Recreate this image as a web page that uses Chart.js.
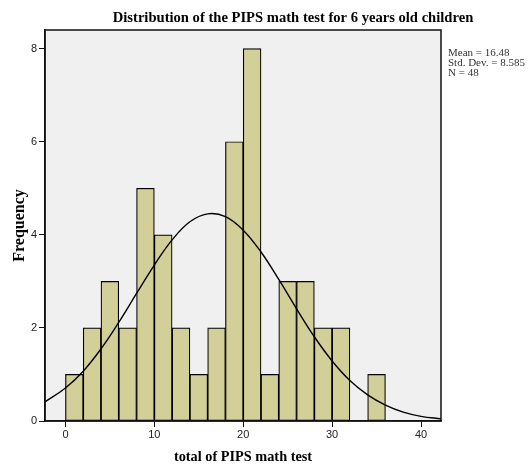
<!DOCTYPE html>
<html>
<head>
<meta charset="utf-8">
<script src="https://cdn.jsdelivr.net/npm/chart.js@4.4.1/dist/chart.umd.min.js"></script>
<style>
  html, body { margin: 0; padding: 0; background: #fff; }
  #wrap { width: 528px; height: 466px; position: relative; }
</style>
</head>
<body>
<div id="wrap"><canvas id="histChart"></canvas></div>
<script>
// Histogram bins (centre of each 2-point bin) and counts
const binCenters = [1, 3, 5, 7, 9, 11, 13, 15, 17, 19, 21, 23, 25, 27, 29, 31, 35];
const binCounts  = [1, 2, 3, 2, 5, 4, 2, 1, 2, 6, 8, 1, 3, 3, 2, 2, 1];

// Normal curve
const curveX = [-2.3, 0, 2, 4, 6, 8, 10, 12, 14, 16, 18, 20, 22, 24, 26, 28, 30, 32, 34, 36, 38, 40, 42.3];
const curveY = [0.41, 0.71, 1.07, 1.55, 2.12, 2.74, 3.35, 3.89, 4.28, 4.45, 4.39, 4.10, 3.63, 3.04, 2.41, 1.81, 1.29, 0.87, 0.56, 0.34, 0.19, 0.10, 0.045];

const xTicks = [0, 10, 20, 30, 40];
const yTicks = [0, 2, 4, 6, 8];

const titleText = 'Distribution of the PIPS math test for 6 years old children';
const statsLines = ['Mean = 16.48', 'Std. Dev. = 8.585', 'N = 48'];

const serif = '"Liberation Serif", "Times New Roman", serif';
const sans = '"Liberation Sans", Arial, sans-serif';

// plot background, frame, title and stats box
const frame = {
    id: 'frame',
    beforeDraw(chart) {
        const a = chart.chartArea, c = chart.ctx;
        c.save();
        c.fillStyle = '#f0f0f0';
        c.fillRect(a.left, a.top, a.right - a.left, a.bottom - a.top);
        c.restore();
    },
    afterDraw(chart) {
        const a = chart.chartArea, c = chart.ctx;
        c.save();
        c.strokeStyle = '#111';
        c.lineWidth = 1.5;
        c.strokeRect(a.left, a.top, a.right - a.left, a.bottom - a.top);

        c.fillStyle = '#000';
        c.font = 'bold 14.6px ' + serif;
        c.textAlign = 'center';
        c.textBaseline = 'alphabetic';
        c.fillText(titleText, 293, 22);

        c.font = '11px ' + serif;
        c.fillStyle = '#333';
        c.textAlign = 'left';
        statsLines.forEach((s, i) => c.fillText(s, a.right + 7, 56 + i * 10));
        c.restore();
    }
};

const ctx = document.getElementById('histChart').getContext('2d');
new Chart(ctx, {
    type: 'bar',
    data: {
        datasets: [{
            type: 'line',
            data: curveX.map((x, i) => ({ x: x, y: curveY[i] })),
            borderColor: '#000',
            borderWidth: 1.4,
            pointRadius: 0,
            tension: 0.4,
            fill: false,
            order: 0
        }, {
            type: 'bar',
            data: binCenters.map((x, i) => ({ x: x, y: binCounts[i] })),
            backgroundColor: '#d3cf98',
            borderColor: '#000',
            borderWidth: 1.2,
            borderSkipped: false,
            barPercentage: 1,
            categoryPercentage: 1,
            order: 1
        }]
    },
    options: {
        responsive: true,
        maintainAspectRatio: false,
        animation: false,
        layout: { padding: { top: 30, right: 87, left: 0, bottom: 0 } },
        plugins: {
            legend: { display: false },
            tooltip: { enabled: false },
            title: { display: false }
        },
        scales: {
            x: {
                type: 'linear',
                offset: false,
                min: -2.3,
                max: 42.25,
                afterBuildTicks: s => { s.ticks = xTicks.map(v => ({ value: v })); },
                afterFit: s => { s.height = 45; },
                grid: { offset: false, drawOnChartArea: false, drawTicks: true, tickLength: 6, color: '#111' },
                border: { display: true, color: '#111', width: 1.5 },
                ticks: { color: '#222', font: { family: sans, size: 11 }, padding: 1, maxRotation: 0 },
                title: { display: true, text: 'total of PIPS math test', color: '#000', font: { family: serif, size: 14.3, weight: 'bold', lineHeight: 1.2 }, padding: { top: 12, bottom: 0 } }
            },
            y: {
                min: 0,
                max: 8.4,
                afterBuildTicks: s => { s.ticks = yTicks.map(v => ({ value: v })); },
                afterFit: s => { s.width = 45; },
                grid: { drawOnChartArea: false, drawTicks: true, tickLength: 6, color: '#111' },
                border: { display: true, color: '#111', width: 1.5 },
                ticks: { color: '#222', font: { family: sans, size: 11 }, padding: 2 },
                title: { display: true, text: 'Frequency', color: '#000', font: { family: serif, size: 16, weight: 'bold' }, padding: { top: 10, bottom: 2 } }
            }
        }
    },
    plugins: [frame]
});
</script>
</body>
</html>
